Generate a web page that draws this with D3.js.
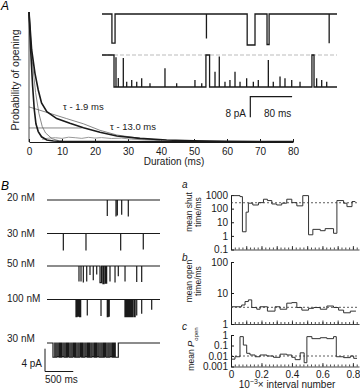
<!DOCTYPE html>
<html>
<head>
<meta charset="utf-8">
<script src="https://cdn.jsdelivr.net/npm/d3@7"></script>
<style>
body{margin:0;background:#fff;}
svg{display:block;font-family:"Liberation Sans",Arial,sans-serif;}
</style>
</head>
<body>
<svg id="fig" width="360" height="391"></svg>
<script>
// ---- panel A: dwell-time curves (duration ms, probability) ----
var durTicks   = [0,10,20,30,40,50,60,70,80];
var slowCurve  = [[0,1],[0.8,0.71],[1.8,0.53],[2.8,0.40],[3.8,0.30],[5.4,0.233],[8.4,0.18],[12.4,0.144],[16.5,0.11],[21.5,0.075],[26.6,0.046],[33.6,0.028],[41.7,0.015],[50,0.009],[60,0.006],[70,0.004],[80,0.003]];
var fastCurve  = [[0,1],[0.5,0.71],[1.1,0.43],[1.6,0.25],[2.1,0.14],[2.8,0.08],[3.8,0.04],[5.4,0.015],[7.4,0.008],[10,0.005],[20,0.003],[40,0.002],[80,0.001]];
var fitFast    = [[0,0.98],[1,0.62],[2,0.38],[3,0.22],[4,0.12],[5,0.07],[7,0.025],[9,0.01]];
var fitSlow    = [[0,0.27],[6.4,0.22],[11.4,0.18],[16.5,0.14],[21.5,0.09],[26.6,0.054],[33.6,0.028],[39.7,0.015]];
var fitFlat    = [[0,0.108],[16,0.108]];
var residual   = [[4,0.02],[6,0.03],[8,0.033],[10,0.028],[12,0.037],[14,0.033],[16,0.028],[18,0.036],[20,0.03],[22,0.034],[25,0.027],[28,0.03],[31,0.022],[35,0.016],[40,0.01],[45,0.007]];

// inset records (ms, pA): [start, end, level]
var insetTop    = [[19,25,-11.3],[200,200,-9.5],[278,293,-12],[316,320,-11.8],[435,435,-11.3]];
var insetBottom = [[0,23,0],[26.8,26.8,-0.8],[31.2,31.2,-8.6],[40.8,40.8,-1.1],[47.3,47.3,-10],[56.9,56.9,-9.4],[66.5,66.5,-10],[76,76,-8.7],[91.9,91.9,-10.6],[120.6,120.6,-5],[143,143,-10.6],[178,178,-9.4],[191,191,-10.6],[199,206,0],[216.4,216.4,-6.3],[224.6,224.6,-0.6],[235.5,235.5,-10],[245,245,-9.4],[254.7,254.7,-6.3],[264.3,264.3,-10],[277,277,-8.7],[289.8,289.8,-10],[299.3,299.3,-9.4],[318.5,318.5,-1.9],[328,328,-10],[340.9,340.9,-8.1],[350.4,350.4,-8.7],[363.3,363.3,-9.4],[379.2,379.2,-10],[402,406,0],[411,411,-8.7],[420.7,420.7,-9.4],[430.3,430.3,-10]];

// ---- panel B left: single-channel records (ms, pA) ----
var concLabels = ['20 nM','30 nM','50 nM','100 nM','30 nM'];
var tr20  = [[1067,1067,-2.8],[1221,1221,-2.9],[1245,1245,-2.7],[1322,1322,-2.6],[1439,1439,-2.9]];
var tr30  = [[289,289,-3],[690,690,-3],[1304,1304,-3],[1704,1704,-2.8]];
var tr50  = [[566,566,-2.7],[602,602,-2.7],[643,643,-2.9],[703,703,-2.7],[761,761,-1.6],[819,819,-2.5],[880,880,-1.5],[938,965,-2.9],[990,1010,-3.1],[1035,1056,-3.0],[1115,1115,-2.7],[1204,1204,-2.9],[1262,1262,-1.8],[1381,1381,-2.7],[1588,1588,-2.8],[1676,1676,-2.8]];
var tr100 = [[513,530,-3],[545,560,-2.9],[575,596,-3],[713,713,-2.8],[956,956,-2.9],[1067,1080,-3],[1095,1102,-2.9],[1380,1400,-3],[1420,1440,-3],[1460,1480,-3],[1500,1520,-3],[1545,1560,-3],[1588,1588,-2.8],[1676,1676,-2.5],[1853,1853,-1.8]];
var trBurst = [[106,138,-2.5],[146,173,-2.5],[181,208,-2.4],[216,235,-2.5],[243,261,-2.5],[269,297,-2.4],[305,332,-2.5],[340,359,-2.5],[367,385,-2.4],[393,421,-2.5],[429,456,-2.5],[464,483,-2.4],[491,509,-2.5],[517,545,-2.5],[553,580,-2.5],[588,607,-2.4],[615,633,-2.5],[641,669,-2.5],[677,704,-2.4],[712,731,-2.5],[739,757,-2.5],[765,792,-2.5],[800,828,-2.4],[836,854,-2.5],[862,881,-2.5],[889,916,-2.4],[924,952,-2.5],[960,987,-2.5],[995,1014,-2.5],[1022,1040,-2.4],[1048,1076,-2.5],[1084,1111,-2.5],[1119,1146,-2.4],[1154,1173,-2.5],[1181,1200,-2.5],[1208,1262,-2.5]];

// ---- panel B right: stability plots [x0, x1, value] (x = 10^-3 x interval number) ----
var shutSteps = [[0,0.059,900],[0.059,0.075,760],[0.075,0.099,2],[0.099,0.114,55],[0.114,0.143,250],[0.143,0.18,185],[0.18,0.213,275],[0.213,0.239,490],[0.239,0.268,390],[0.268,0.3,220],[0.3,0.333,185],[0.333,0.366,250],[0.366,0.399,490],[0.399,0.432,275],[0.432,0.471,160],[0.471,0.509,900],[0.509,0.537,1.2],[0.537,0.586,3],[0.586,0.618,2.4],[0.618,0.673,3.4],[0.673,0.695,1.55],[0.695,0.739,390],[0.739,0.761,250],[0.761,0.794,140],[0.794,0.816,330]];
var openSteps = [[0,0.07,3.6],[0.07,0.092,4.1],[0.092,0.114,5.3],[0.114,0.136,6],[0.136,0.169,3.4],[0.169,0.191,3.0],[0.191,0.239,3.6],[0.239,0.289,2.6],[0.289,0.322,3.6],[0.322,0.366,3.0],[0.366,0.399,4.7],[0.399,0.432,4.9],[0.432,0.465,3.4],[0.465,0.509,2.8],[0.509,0.542,3.2],[0.542,0.586,3.4],[0.586,0.629,3.0],[0.629,0.673,3.8],[0.673,0.706,3.4],[0.706,0.739,2.8],[0.739,0.783,2.3],[0.783,0.82,2.6]];
var popenSteps = [[0,0.026,0.005],[0.026,0.059,0.0085],[0.059,0.081,0.7],[0.081,0.103,0.11],[0.103,0.125,0.018],[0.125,0.158,0.0125],[0.158,0.191,0.0085],[0.191,0.235,0.0125],[0.235,0.279,0.01],[0.279,0.322,0.0075],[0.322,0.366,0.015],[0.366,0.399,0.0125],[0.399,0.421,0.0075],[0.421,0.454,0.0045],[0.454,0.48,0.02],[0.48,0.498,0.0023],[0.498,0.531,0.7],[0.531,0.586,0.45],[0.586,0.629,0.55],[0.629,0.673,0.45],[0.673,0.691,0.7],[0.691,0.739,0.0085],[0.739,0.783,0.007],[0.783,0.805,0.01],[0.805,0.827,0.006]];
var shutMean = 270, openMean = 3.45, popenMean = 0.01;
var shutTicks = [0.1,1,10,100,1000], openTicks = [1,10,100], popenTicks = [0.001,0.01,0.1,1];
var intervalTicks = [0,0.2,0.4,0.6,0.8];

var svg = d3.select('#fig');
var ink = '#1a1a1a';

function eventPoints(events, t0, t1, base){
    var pts = [];
    if (events[0][0] > t0) pts.push([t0,base]);
    events.forEach(function(e){ pts.push([e[0],base],[e[0],e[2]],[e[1],e[2]],[e[1],base]); });
    pts.push([t1,base]);
    if (events[0][0] <= t0) pts.shift();
    return pts;
}
function stepPoints(steps){
    var pts = [];
    steps.forEach(function(s){ pts.push([s[0],s[2]],[s[1],s[2]]); });
    return pts;
}

// ======== panel A ========
var xA = d3.scaleLinear().domain([0,80]).range([29,293]);
var yA = d3.scaleLinear().domain([0,1]).range([142,12]);
var lineA = d3.line().x(function(d){ return xA(d[0]); }).y(function(d){ return yA(d[1]); });

svg.append('text').attr('x',1).attr('y',10).attr('font-size',12).attr('font-style','italic').text('A');
svg.append('line').attr('x1',xA(0)).attr('x2',xA(0)).attr('y1',yA(1)).attr('y2',yA(0)).attr('stroke',ink).attr('stroke-width',0.8);

var gxA = svg.append('g').attr('transform','translate(0,'+yA(0)+')')
    .call(d3.axisBottom(xA).tickValues(durTicks).tickSizeInner(-3).tickSizeOuter(0).tickPadding(6));
gxA.selectAll('path,line').attr('stroke',ink);
gxA.selectAll('text').attr('font-size',10).attr('fill',ink).attr('font-family','"Liberation Sans",Arial,sans-serif');

svg.append('text').attr('transform','translate(19,80) rotate(-90)').attr('text-anchor','middle')
    .attr('font-size',10.5).attr('fill',ink).text('Probability of opening');
svg.append('text').attr('x',174).attr('y',165).attr('text-anchor','middle').attr('font-size',10).attr('fill',ink).text('Duration (ms)');

svg.append('path').attr('d',lineA(residual)).attr('fill','none').attr('stroke','#9a9a9a').attr('stroke-width',1);
svg.append('path').attr('d',lineA(fitFlat)).attr('fill','none').attr('stroke','#555').attr('stroke-width',0.7);
svg.append('path').attr('d',lineA(fitSlow)).attr('fill','none').attr('stroke','#555').attr('stroke-width',0.7);
svg.append('path').attr('d',lineA(fitFast)).attr('fill','none').attr('stroke','#555').attr('stroke-width',0.7);
svg.append('path').attr('d',lineA(fastCurve)).attr('fill','none').attr('stroke',ink).attr('stroke-width',1.6);
svg.append('path').attr('d',lineA(slowCurve)).attr('fill','none').attr('stroke',ink).attr('stroke-width',1.6);

svg.append('text').attr('x',63).attr('y',110).attr('font-size',9.5).attr('fill',ink).text('\u03c4 - 1.9 ms');
svg.append('text').attr('x',110).attr('y',130).attr('font-size',9.5).attr('fill',ink).text('\u03c4 - 13.0 ms');

// inset records
var xI = d3.scaleLinear().domain([0,450]).range([102,337]);
var yTop = d3.scaleLinear().domain([-12,0]).range([45,14]);
var yBot = d3.scaleLinear().domain([-12,0]).range([87,55]);
svg.append('line').attr('x1',xI(0)).attr('x2',xI(450)).attr('y1',yBot(0)).attr('y2',yBot(0))
    .attr('stroke','#aaa').attr('stroke-width',0.8).attr('stroke-dasharray','4,2');
svg.append('path').attr('d',d3.line().x(function(d){ return xI(d[0]); }).y(function(d){ return yTop(d[1]); })(eventPoints(insetTop,0,450,0)))
    .attr('fill','none').attr('stroke',ink).attr('stroke-width',1.3);
svg.append('path').attr('d',d3.line().x(function(d){ return xI(d[0]); }).y(function(d){ return yBot(d[1]); })(eventPoints(insetBottom,0,450,-12)))
    .attr('fill','none').attr('stroke',ink).attr('stroke-width',1.3);

// inset scale bar: 8 pA, 80 ms
svg.append('path').attr('d','M'+xI(284)+','+(96.7+(yTop(-8)-yTop(0)))+'V96.7H'+xI(364))
    .attr('fill','none').attr('stroke',ink).attr('stroke-width',1.2);
svg.append('text').attr('x',246).attr('y',117).attr('text-anchor','end').attr('font-size',10).attr('fill',ink).text('8 pA');
svg.append('text').attr('x',264).attr('y',117).attr('font-size',10).attr('fill',ink).text('80 ms');

// ======== panel B left ========
svg.append('text').attr('x',1).attr('y',190).attr('font-size',12).attr('font-style','italic').text('B');
var xB = d3.scaleLinear().domain([0,2000]).range([47,160]);
var pxPerPA = 5.7;
var traces = [
    {ev:tr20,   base:200,   label:201},
    {ev:tr30,   base:233.5, label:237},
    {ev:tr50,   base:266,   label:267},
    {ev:tr100,  base:299.5, label:302},
    {ev:trBurst,base:343,   label:342}
];
traces.forEach(function(t,i){
    var yT = d3.scaleLinear().domain([-1,0]).range([t.base+pxPerPA,t.base]);
    var ln = d3.line().x(function(d){ return xB(d[0]); }).y(function(d){ return yT(d[1]); });
    svg.append('path').attr('d',ln(eventPoints(t.ev,0,2000,0))).attr('fill','none').attr('stroke',ink).attr('stroke-width',1.2);
    svg.append('text').attr('x',7).attr('y',t.label).attr('font-size',10).attr('fill',ink).text(concLabels[i]);
});
// scale bar 4 pA / 500 ms
var sb0 = xB(0) - 2;
svg.append('path').attr('d','M'+sb0+','+(371.5-4*pxPerPA)+'V371.5H'+(sb0+xB(500)-xB(0)))
    .attr('fill','none').attr('stroke',ink).attr('stroke-width',1);
svg.append('text').attr('x',42).attr('y',367).attr('text-anchor','end').attr('font-size',10).attr('fill',ink).text('4 pA');
svg.append('text').attr('x',45).attr('y',383).attr('font-size',10).attr('fill',ink).text('500 ms');

// ======== panel B right ========
var xR = d3.scaleLinear().domain([0,0.84]).range([231,359]);
var minorTicks = d3.range(0,0.84,0.025);
var majorTicks = d3.range(0,0.84,0.1);
var panels = [
    {steps:shutSteps, mean:shutMean, ticks:shutTicks, dom:[0.1,1000], rng:[249.5,195], tag:'a', tagY:188, lab:['mean shut','time/ms'], labY:212, xlab:false},
    {steps:openSteps, mean:openMean, ticks:openTicks, dom:[1,100], rng:[324,262], tag:'b', tagY:261, lab:['mean open','time/ms'], labY:281, xlab:false},
    {steps:popenSteps, mean:popenMean, ticks:popenTicks, dom:[0.001,1], rng:[366.5,335], tag:'c', tagY:330, lab:null, labY:349, xlab:true}
];
panels.forEach(function(p){
    var y = d3.scaleLog().domain(p.dom).range(p.rng);
    var gy = svg.append('g').attr('transform','translate('+xR(0)+',0)')
        .call(d3.axisLeft(y).tickValues(p.ticks).tickFormat(function(d){ return String(d); }).tickSizeInner(-3).tickSizeOuter(0).tickPadding(3));
    gy.selectAll('path,line').attr('stroke',ink);
    gy.selectAll('text').attr('font-size',10).attr('fill',ink).attr('font-family','"Liberation Sans",Arial,sans-serif');

    var gMinor = svg.append('g').attr('transform','translate(0,'+p.rng[0]+')')
        .call(d3.axisBottom(xR).tickValues(minorTicks).tickSizeInner(-2).tickSizeOuter(0).tickFormat(''));
    gMinor.selectAll('path,line').attr('stroke',ink).attr('stroke-width',0.8);
    var gMajor = svg.append('g').attr('transform','translate(0,'+p.rng[0]+')')
        .call(d3.axisBottom(xR).tickValues(p.xlab ? intervalTicks : majorTicks).tickSizeInner(-3.5).tickSizeOuter(0).tickPadding(4)
            .tickFormat(p.xlab ? function(d){ return d===0 ? '0' : d3.format('.1f')(d); } : ''));
    gMajor.select('.domain').remove();
    gMajor.selectAll('line').attr('stroke',ink).attr('stroke-width',0.8);
    gMajor.selectAll('text').attr('font-size',10).attr('fill',ink).attr('font-family','"Liberation Sans",Arial,sans-serif');

    svg.append('line').attr('x1',xR(0)).attr('x2',xR(0.84)).attr('y1',y(p.mean)).attr('y2',y(p.mean))
        .attr('stroke','#333').attr('stroke-width',0.8).attr('stroke-dasharray','2,2');
    svg.append('path').attr('d',d3.line().x(function(d){ return xR(d[0]); }).y(function(d){ return y(d[1]); })(stepPoints(p.steps)))
        .attr('fill','none').attr('stroke','#333').attr('stroke-width',1);

    svg.append('text').attr('x',182).attr('y',p.tagY).attr('font-size',10).attr('font-style','italic').attr('fill',ink).text(p.tag);
    if (p.lab) {
        svg.append('text').attr('transform','translate(191.5,'+p.labY+') rotate(-90)').attr('text-anchor','middle')
            .attr('font-size',8.5).attr('fill',ink).text(p.lab[0]);
        svg.append('text').attr('transform','translate(201,'+p.labY+') rotate(-90)').attr('text-anchor','middle')
            .attr('font-size',8.5).attr('fill',ink).text(p.lab[1]);
    } else {
        var t = svg.append('text').attr('transform','translate(194,'+p.labY+') rotate(-90)').attr('text-anchor','middle')
            .attr('font-size',8.5).attr('fill',ink);
        t.append('tspan').text('mean ');
        t.append('tspan').attr('font-style','italic').attr('font-size',9.5).text('P');
        t.append('tspan').attr('font-size',6).attr('dy',4).text('open');
    }
});
var xl = svg.append('text').attr('x',287).attr('y',388).attr('text-anchor','middle').attr('font-size',10).attr('fill',ink);
xl.append('tspan').text('10');
xl.append('tspan').attr('font-size',7).attr('dy',-4).text('\u22123');
xl.append('tspan').attr('dy',4).text('\u00d7 interval number');
</script>
</body>
</html>
